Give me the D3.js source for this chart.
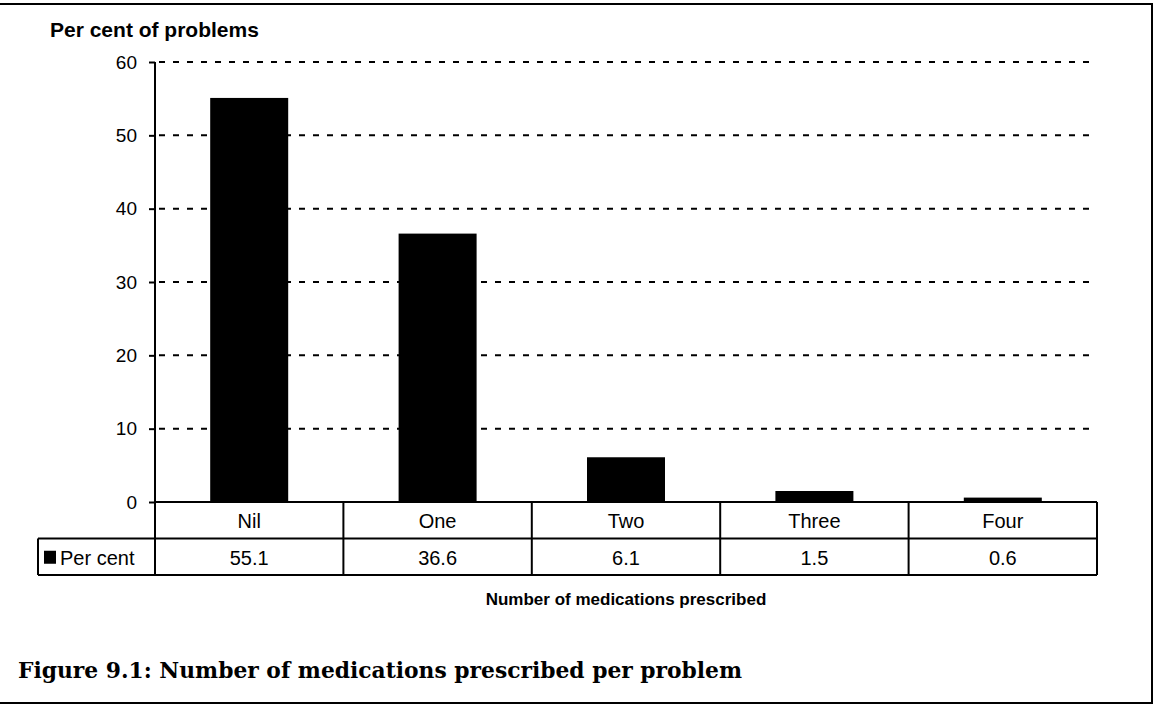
<!DOCTYPE html>
<html>
<head>
<meta charset="utf-8">
<script src="https://cdn.jsdelivr.net/npm/d3@7"></script>
<style>
  body { margin: 0; background: #fff; }
  svg { display: block; }
</style>
</head>
<body>
<div id="chart"></div>
<script>
// data
var categories = ["Nil", "One", "Two", "Three", "Four"];
var perCent = [55.1, 36.6, 6.1, 1.5, 0.6];
var yTicks = [0, 10, 20, 30, 40, 50, 60];
var seriesName = "Per cent";

var svgWidth = 1157;
var svgHeight = 705;

var margin = { top: 62, left: 155, right: 60, bottom: 203 };
var width = svgWidth - margin.left - margin.right;   // 942
var height = svgHeight - margin.top - margin.bottom; // 440

var sans = "Liberation Sans, Arial, sans-serif";

var svg = d3
  .select("#chart")
  .append("svg")
  .attr("width", svgWidth)
  .attr("height", svgHeight);

// outer frame
svg.append("path")
  .attr("d", "M0,4 H1152 V703 H0")
  .attr("fill", "none")
  .attr("stroke", "#000")
  .attr("stroke-width", 2);

var chartGroup = svg
  .append("g")
  .attr("transform", `translate(${margin.left}, ${margin.top})`);

var xScale = d3.scaleBand().domain(categories).range([0, width]).padding(0);
var yScale = d3.scaleLinear().domain([0, 60]).range([height, 0]);

// dashed gridlines
chartGroup
  .selectAll("line.grid")
  .data(yTicks.filter((d) => d > 0))
  .enter()
  .append("line")
  .attr("class", "grid")
  .attr("x1", 4)
  .attr("x2", width)
  .attr("y1", (d) => yScale(d))
  .attr("y2", (d) => yScale(d))
  .attr("stroke", "#000")
  .attr("stroke-width", 2)
  .attr("stroke-dasharray", "6,8");

// bars
var barW = 78;
chartGroup
  .selectAll("rect.bar")
  .data(perCent)
  .enter()
  .append("rect")
  .attr("class", "bar")
  .attr("x", (d, i) => xScale(categories[i]) + xScale.bandwidth() / 2 - barW / 2)
  .attr("y", (d) => yScale(d))
  .attr("width", barW)
  .attr("height", (d) => height - yScale(d))
  .attr("fill", "#000");

// y axis
var yAxis = d3.axisLeft(yScale).tickValues(yTicks).tickSize(6).tickPadding(12);
var yAxisG = chartGroup.append("g").call(yAxis);
yAxisG.select(".domain").remove();
yAxisG.selectAll("line").attr("stroke-width", 2);
yAxisG.selectAll("text")
  .style("font-family", sans)
  .style("font-size", "19px")
  .attr("fill", "#000");
chartGroup.append("line")
  .attr("x1", 0).attr("x2", 0)
  .attr("y1", 0).attr("y2", height + 73)
  .attr("stroke", "#000")
  .attr("stroke-width", 2);

// data table below the plot
var rowH = 36.5;
var table = chartGroup.append("g").attr("transform", `translate(0, ${height})`);
var tableLeft = 38 - margin.left;

table.append("line")
  .attr("x1", 0).attr("x2", width).attr("y1", 0).attr("y2", 0)
  .attr("stroke", "#000").attr("stroke-width", 2);
table.append("line")
  .attr("x1", tableLeft).attr("x2", width).attr("y1", rowH).attr("y2", rowH)
  .attr("stroke", "#000").attr("stroke-width", 2);
table.append("line")
  .attr("x1", tableLeft).attr("x2", width).attr("y1", rowH * 2).attr("y2", rowH * 2)
  .attr("stroke", "#000").attr("stroke-width", 2);
table.append("line")
  .attr("x1", tableLeft).attr("x2", tableLeft).attr("y1", rowH).attr("y2", rowH * 2)
  .attr("stroke", "#000").attr("stroke-width", 2);

table.selectAll("line.sep")
  .data(categories)
  .enter()
  .append("line")
  .attr("class", "sep")
  .attr("x1", (d) => xScale(d) + xScale.bandwidth())
  .attr("x2", (d) => xScale(d) + xScale.bandwidth())
  .attr("y1", 0)
  .attr("y2", rowH * 2)
  .attr("stroke", "#000")
  .attr("stroke-width", 2);

table.selectAll("text.cat")
  .data(categories)
  .enter()
  .append("text")
  .attr("class", "cat")
  .attr("x", (d) => xScale(d) + xScale.bandwidth() / 2)
  .attr("y", rowH / 2 + 1)
  .attr("dy", "0.35em")
  .style("text-anchor", "middle")
  .style("font-family", sans)
  .style("font-size", "20px")
  .text((d) => d);

table.selectAll("text.val")
  .data(perCent)
  .enter()
  .append("text")
  .attr("class", "val")
  .attr("x", (d, i) => xScale(categories[i]) + xScale.bandwidth() / 2)
  .attr("y", rowH * 1.5 + 1)
  .attr("dy", "0.35em")
  .style("text-anchor", "middle")
  .style("font-family", sans)
  .style("font-size", "20px")
  .text((d) => d.toFixed(1));

// legend key in the table
table.append("rect")
  .attr("x", tableLeft + 6)
  .attr("y", rowH * 1.5 - 6)
  .attr("width", 12)
  .attr("height", 13)
  .attr("fill", "#000");
table.append("text")
  .attr("x", tableLeft + 22)
  .attr("y", rowH * 1.5 + 1)
  .attr("dy", "0.35em")
  .style("font-family", sans)
  .style("font-size", "20px")
  .text(seriesName);

// axis titles
svg.append("text")
  .attr("x", 50)
  .attr("y", 37)
  .style("font-family", sans)
  .style("font-size", "21px")
  .style("font-weight", "bold")
  .text("Per cent of problems");

svg.append("text")
  .attr("x", margin.left + width / 2)
  .attr("y", 605)
  .style("text-anchor", "middle")
  .style("font-family", sans)
  .style("font-size", "17px")
  .style("font-weight", "bold")
  .text("Number of medications prescribed");

// caption
svg.append("text")
  .attr("x", 18)
  .attr("y", 678)
  .style("font-family", "DejaVu Serif, serif")
  .style("font-size", "21.8px")
  .style("font-weight", "bold")
  .text("Figure 9.1: Number of medications prescribed per problem");
</script>
</body>
</html>
